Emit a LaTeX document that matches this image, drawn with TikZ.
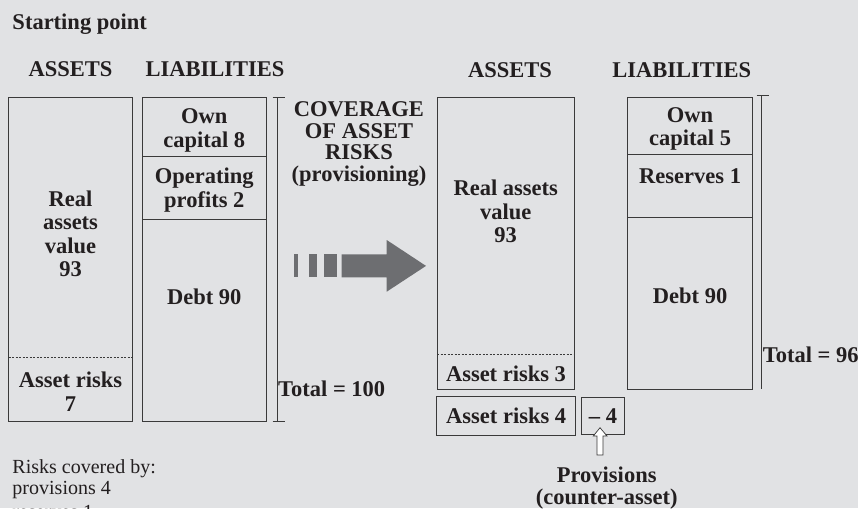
\documentclass[tikz,border=0pt]{standalone}
\usepackage{fontspec}
\setmainfont{Liberation Serif}
\usetikzlibrary{calc}
\definecolor{bg}{HTML}{E1E2E4}
\definecolor{ink}{HTML}{231F20}
\definecolor{rulec}{HTML}{3A3A3A}
\definecolor{arrowgray}{HTML}{6D6E71}
\tikzset{
  boxline/.style={draw=rulec, line width=0.9pt},
  dashline/.style={draw=rulec, line width=1pt, dash pattern=on 2.2pt off 1.3pt},
  bold/.style={font=\bfseries\fontsize{22.5}{23.5}\selectfont, text=ink, inner sep=0pt, align=center},
  plain/.style={font=\fontsize{20}{21.3}\selectfont, text=ink, inner sep=0pt, align=left},
  framed/.style={bold, draw=rulec, line width=0.9pt},
}
\begin{document}
\begin{tikzpicture}[x=1pt,y=-1pt]
\useasboundingbox (0,0) rectangle (858,508);
\fill[bg] (0,0) rectangle (858,508);
\clip (0,0) rectangle (858,508);

% titles
\node[bold, anchor=base west] (start) at (12.3,29.3) {Starting point};
\node[bold, anchor=base] (hA1) at (70.5,77) {ASSETS};
\node[bold, anchor=base] (hL1) at (215,77) {LIABILITIES};
\node[bold, anchor=base] (hA2) at (510,78) {ASSETS};
\node[bold, anchor=base] (hL2) at (681.7,78) {LIABILITIES};

% left assets
\draw[boxline] (8.5,97) rectangle (132.5,421.7);
\draw[dashline] (8.5,357.7) -- (132.5,357.7);
\node[bold] (real1) at (70.5,234) {Real\\assets\\value\\93};
\node[bold] (risk7) at (70.5,391.5) {Asset risks\\7};

% left liabilities
\draw[boxline] (142.7,97) rectangle (266,421.7);
\draw[boxline] (142.7,156.3) -- (266,156.3);
\draw[boxline] (142.7,219) -- (266,219);
\node[bold] (own8) at (204.3,130.25) {Own\\capital 8};
\node[bold] (op2) at (204.3,190.25) {Operating\\profits 2};
\node[bold, anchor=base] (debt1) at (204.3,304) {Debt 90};

% left total bracket
\draw[boxline] (272.7,97.3) -- (284.5,97.3) (277,97.3) -- (277,421.7) (272.7,421.7) -- (285,421.7);
\node[bold, anchor=base west] (tot100) at (278,396.5) {Total = 100};

% middle
\node[bold, font=\bfseries\fontsize{22.5}{21.7}\selectfont] (cov) at (359,144) {COVERAGE\\OF ASSET\\RISKS\\(provisioning)};
\fill[arrowgray] (294,254.3) rectangle (298.3,277.3);
\fill[arrowgray] (309.3,254.3) rectangle (316.7,277.3);
\fill[arrowgray] (324.3,254.3) rectangle (336.7,277.3);
\fill[arrowgray] (341.7,254.3) -- (386.7,254.3) -- (386.7,240) -- (426,265.9) -- (386.7,291.7) -- (386.7,277.3) -- (341.7,277.3) -- cycle;

% right assets
\draw[boxline] (437,97.3) rectangle (574.3,389.3);
\draw[dashline] (437,354.3) -- (574.3,354.3);
\node[bold] (real2) at (505.7,211.5) {Real assets\\value\\93};
\node[bold, anchor=base] (risk3) at (506,381.5) {Asset risks 3};
\node[framed, minimum width=139pt, minimum height=39pt] (risk4) at (506.2,416.2) {Asset risks 4};
\node[framed, minimum width=42.6pt, minimum height=36.3pt] (minus4) at (603,415.85) {\textendash\ 4};
\draw[rulec, fill=white, line width=0.7pt] (597,455) -- (597,436) -- (593.3,436) -- (600,427.7) -- (607,436) -- (603,436) -- (603,455) -- cycle;
\node[bold, font=\bfseries\fontsize{22.5}{21.3}\selectfont] (prov) at (606.7,488.2) {Provisions\\(counter-asset)};

% right liabilities
\draw[boxline] (627.5,97.3) rectangle (752.7,389.3);
\draw[boxline] (627.5,154.3) -- (752.7,154.3);
\draw[boxline] (627.5,217.3) -- (752.7,217.3);
\node[bold] (own5) at (690.1,128.75) {Own\\capital 5};
\node[bold, anchor=base] (res1) at (690.1,183.5) {Reserves 1};
\node[bold, anchor=base] (debt2) at (690.1,303.5) {Debt 90};
\draw[boxline] (756.7,95.7) -- (769,95.7) (761.7,95.7) -- (761.7,389.3);
\node[bold, anchor=base west] (tot96) at (762.7,362.5) {Total = 96};

% note (last line is cut off by the lower edge, as in the original)
\node[plain, anchor=north west] (note) at (12.3,459.3) {Risks covered by:\\provisions 4\\[3pt]reserves 1};
\end{tikzpicture}
\end{document}
